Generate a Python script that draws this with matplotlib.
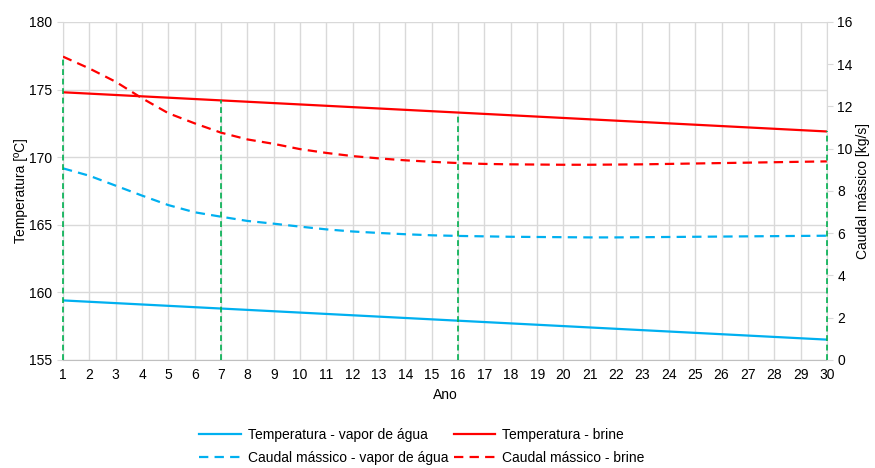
import numpy as np
import matplotlib
matplotlib.use("Agg")
import matplotlib.pyplot as plt

plt.rcParams['font.family'] = ['Liberation Sans', 'DejaVu Sans']

anos = list(range(1, 31))

# temperatura [ºC] (eixo esquerdo)
temp_vapor = [159.4, 159.3, 159.2, 159.1, 159.0, 158.9, 158.8, 158.7, 158.6, 158.5,
              158.4, 158.3, 158.2, 158.1, 158.0, 157.9, 157.8, 157.7, 157.6, 157.5,
              157.4, 157.3, 157.2, 157.1, 157.0, 156.9, 156.8, 156.7, 156.6, 156.5]
temp_brine = [174.8, 174.7, 174.6, 174.5, 174.4, 174.3, 174.2, 174.1, 174.0, 173.9,
              173.8, 173.7, 173.6, 173.5, 173.4, 173.3, 173.2, 173.1, 173.0, 172.9,
              172.8, 172.7, 172.6, 172.5, 172.4, 172.3, 172.2, 172.1, 172.0, 171.9]

# caudal mássico [kg/s] (eixo direito)
caudal_vapor = [9.07, 8.72, 8.25, 7.78, 7.33, 6.99, 6.78, 6.58, 6.45, 6.31,
                6.18, 6.08, 6.01, 5.95, 5.90, 5.87, 5.85, 5.83, 5.82, 5.81,
                5.80, 5.80, 5.81, 5.82, 5.83, 5.84, 5.85, 5.86, 5.87, 5.88]
caudal_brine = [14.36, 13.80, 13.17, 12.39, 11.68, 11.20, 10.76, 10.44, 10.23, 9.98,
                9.80, 9.65, 9.54, 9.45, 9.38, 9.32, 9.28, 9.26, 9.25, 9.24,
                9.24, 9.25, 9.26, 9.28, 9.30, 9.32, 9.34, 9.36, 9.38, 9.40]

anos_marcados = [1, 7, 16, 30]

azul = '#00b0f0'
vermelho = '#ff0000'
verde = '#00b050'
cinza = '#d9d9d9'

fig = plt.figure(figsize=(8.75, 4.68), dpi=100)
ax = fig.add_axes([0.072, 0.231, 0.873, 0.722])
ax2 = ax.twinx()

t_min, t_max = 155, 180
c_min, c_max = 0, 16

# conversão temperatura -> escala do caudal
def t_to_c(t):
    return c_min + (t - t_min) * (c_max - c_min) / (t_max - t_min)

# linhas verticais verdes até à curva mais alta
for a in anos_marcados:
    i = anos.index(a)
    topo = max(t_to_c(temp_vapor[i]), t_to_c(temp_brine[i]), caudal_vapor[i], caudal_brine[i])
    ax2.plot([a, a], [c_min, topo], color=verde, lw=1.2, dashes=(3.5, 2.2),
             zorder=5, clip_on=False)

l1, = ax.plot(anos, temp_vapor, color=azul, lw=1.6, label='Temperatura - vapor de água', zorder=4)
l2, = ax.plot(anos, temp_brine, color=vermelho, lw=1.6, label='Temperatura - brine', zorder=4)
l3, = ax2.plot(anos, caudal_vapor, color=azul, lw=1.6, dashes=(4.2, 2.8),
               label='Caudal mássico - vapor de água')
l4, = ax2.plot(anos, caudal_brine, color=vermelho, lw=1.6, dashes=(4.2, 2.8),
               label='Caudal mássico - brine')

ax.set_xlim(1, 30)
ax.set_ylim(t_min, t_max)
ax2.set_ylim(c_min, c_max)
ax.set_xticks(anos)
ax.set_yticks(range(155, 181, 5))
ax2.set_yticks(range(0, 17, 2))

ax.grid(True, color=cinza, lw=1)
ax.set_axisbelow(True)

ax.spines['top'].set_visible(False)
ax2.spines['top'].set_visible(False)
ax.spines['left'].set_color(cinza)
ax.spines['bottom'].set_color('#bfbfbf')
ax2.spines['left'].set_visible(False)
ax2.spines['bottom'].set_visible(False)
ax2.spines['right'].set_color(cinza)
ax.spines['right'].set_visible(False)

ax.tick_params(axis='both', colors=cinza, labelcolor='#000000', labelsize=10, length=4)
ax.tick_params(axis='x', length=0, pad=6)
ax2.tick_params(axis='y', colors=cinza, labelcolor='#000000', labelsize=10, length=4)

ax.set_xlabel('Ano', fontsize=10, labelpad=4)
ax.set_ylabel('Temperatura [ºC]', fontsize=10, labelpad=1)
ax2.set_ylabel('Caudal mássico [kg/s]', fontsize=10, labelpad=2)

fig.legend([l1, l3, l2, l4], [h.get_label() for h in [l1, l3, l2, l4]],
           ncol=2, loc='center', bbox_to_anchor=(0.482, 0.046), frameon=False,
           fontsize=10, handlelength=3.0, columnspacing=0.4, labelspacing=0.6,
           handletextpad=0.5)

fig.savefig('out.png', dpi=100)
